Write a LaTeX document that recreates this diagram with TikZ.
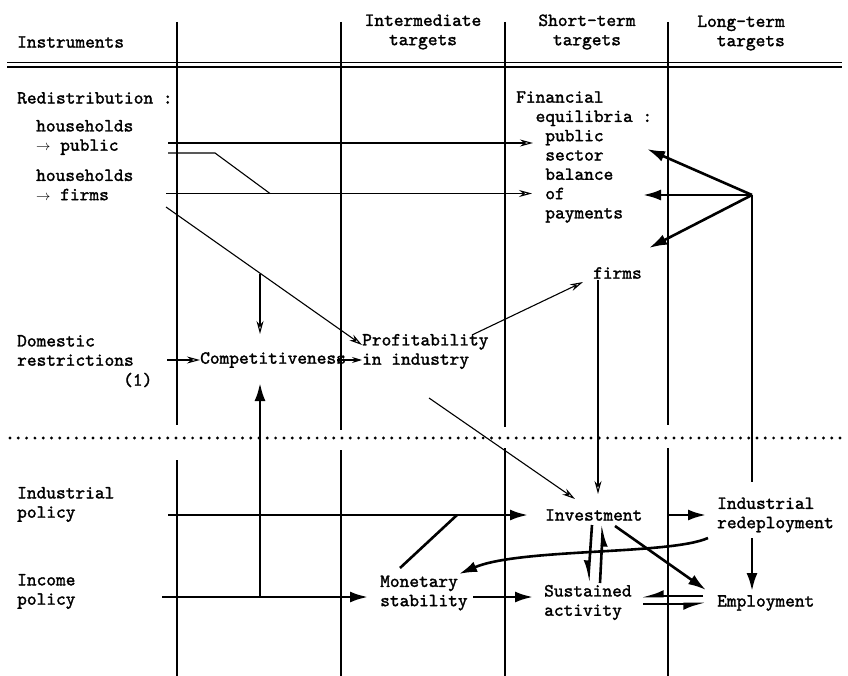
\documentclass[tikz,border=0pt]{standalone}
\usepackage{fontspec}
\usepackage{tikz}
\usetikzlibrary{arrows.meta,positioning,calc}
\newfontfamily\twfont{lmmono10-regular.otf}[FakeBold=1.6]
\newcommand{\tw}{\fontsize{18.5}{19.3}\selectfont\twfont}
\newcommand{\sarr}{{\fontsize{15}{15}\selectfont$\rightarrow$}}
\tikzset{
    txt/.style={font=\tw, align=left, inner sep=0pt, anchor=west},
    hdr/.style={font=\tw, align=center, inner sep=0pt},
    colline/.style={line width=1.7pt},
    hrule/.style={line width=1.4pt},
    thinln/.style={line width=1.1pt},
    thinarr/.style={line width=1.1pt, -{Stealth[open, length=13pt, width=7pt]}},
    boldln/.style={line width=2.6pt},
    boldarr/.style={line width=2.6pt, -{Latex[length=18pt, width=11pt]}},
    halfarr/.style={line width=2.6pt, -{Latex[right, length=17pt, width=12pt]}},
    dotline/.style={line width=3.2pt, line cap=round, dash pattern=on 0pt off 8.3pt},
}

\begin{document}
\begin{tikzpicture}[x=1pt, y=-1pt]
    \useasboundingbox (0,0) rectangle (848,676);

    % Header
    \node[txt] (hins) at (17,42) {Instruments};
    \node[hdr] (hint) at (423,32) {Intermediate\\targets};
    \node[hdr] (hshort) at (587,32) {Short-term\\targets};
    \node[hdr, align=right, anchor=east] (hlong) at (785,33) {Long-term\\targets};
    \draw[hrule] (7,62.5) -- (842,62.5);
    \draw[hrule] (7,67) -- (842,67);

    % Columns
    \foreach \cx/\ya/\yb in {177/425/460, 341/430/450, 505/427/448, 668/425/448} {
        \draw[colline] (\cx,22) -- (\cx,\ya);
        \draw[colline] (\cx,\yb) -- (\cx,676);
    }
    \draw[dotline] (10,438) -- (848,438);

    % Instruments
    \node[txt] (redist) at (17,98) {Redistribution :};
    \node[txt] (hhpub) at (36,137.5) {households\\\sarr\ public};
    \node[txt] (hhfirm) at (36,185) {households\\\sarr\ firms};
    \node[txt] (dom) at (17,350.5) {Domestic\\restrictions};
    \node[txt] (fn) at (123,380) {(1)};
    \node[txt] (indpol) at (17,504.5) {Industrial\\policy};
    \node[txt] (incpol) at (17,591.5) {Income\\policy};

    % Targets
    \node[txt] (comp) at (200,360) {Competitiveness};
    \node[txt] (prof) at (362,351.5) {Profitability\\in industry};
    \node[txt] (mon) at (380,593) {Monetary\\stability};
    \node[txt] (fin) at (516,157) {Financial\\\phantom{xx}equilibria :\\\phantom{xxx}public\\\phantom{xxx}sector\\\phantom{xxx}balance\\\phantom{xxx}of\\\phantom{xxx}payments};
    \node[txt] (firms) at (593,273) {firms};
    \node[txt] (inv) at (545,515) {Investment};
    \node[txt] (sus) at (544,602.5) {Sustained\\activity};
    \node[txt] (redep) at (717,515) {Industrial\\redeployment};
    \node[txt] (emp) at (717,603) {Employment};

    % Free ends
    \coordinate (p1) at (168,143);
    \coordinate (p2) at (168,153);
    \coordinate (p3) at (215,153);
    \coordinate (p4) at (270,193.5);
    \coordinate (p5) at (166,193.5);
    \coordinate (p6) at (166,207);
    \coordinate (p7) at (260,274);
    \coordinate (hub) at (752,195);
    \coordinate (p8) at (752,482);
    \coordinate (p9) at (429,398);
    \coordinate (p10) at (168,515);
    \coordinate (p11) at (162,597);
    \coordinate (p12) at (260,597);
    \coordinate (p13) at (457,515);

    % Thin connectors
    \draw[thinarr] (p1) -- (533,143);
    \draw[thinln] (p2) -- (p3) -- (p4);
    \draw[thinarr] (p5) -- (532,193.5);
    \draw[thinarr] (p6) -- (prof.west |- 0,345);
    \draw[thinarr] (p7) -- (260,334);
    \draw[thinarr] (167,360) -- (comp.west);
    \draw[-{Stealth[length=10pt, width=6pt]}, thinln] (337,360) -- (prof.west |- comp);
    \draw[thinarr] (472,335) -- (583,282);
    \draw[thinarr] (598,280) -- (598,494);
    \draw[thinarr] (p9) -- (575,499);

    % Long-term targets
    \draw[boldarr] (hub) -- (647,149);
    \draw[boldarr] (hub) -- (643,195);
    \draw[boldarr] (hub) -- (649,248);
    \draw[boldln] (hub) -- (p8);

    % Policies
    \draw[boldarr] (p10) -- (528,515);
    \draw[boldln] (400,568) -- (p13);
    \draw[boldarr] (p11) -- (368,597);
    \draw[boldarr] (p12) -- (260,383);
    \draw[boldarr] (473,597) -- (533,597);
    \draw[boldarr] (668,515) -- (706,515);
    \draw[halfarr] (592,525) -- (588,583);
    \draw[halfarr] (600,583) -- (603,524);
    \draw[boldarr] (615,526) -- (706,590);
    \draw[boldarr] (752,538) -- (752,591);
    \draw[halfarr] (703,596) -- (641,596);
    \draw[halfarr] (643,604) -- (706,604);
    \draw[boldarr] (708,538) .. controls (670,555) and (520,548) .. (459,574);
\end{tikzpicture}
\end{document}
